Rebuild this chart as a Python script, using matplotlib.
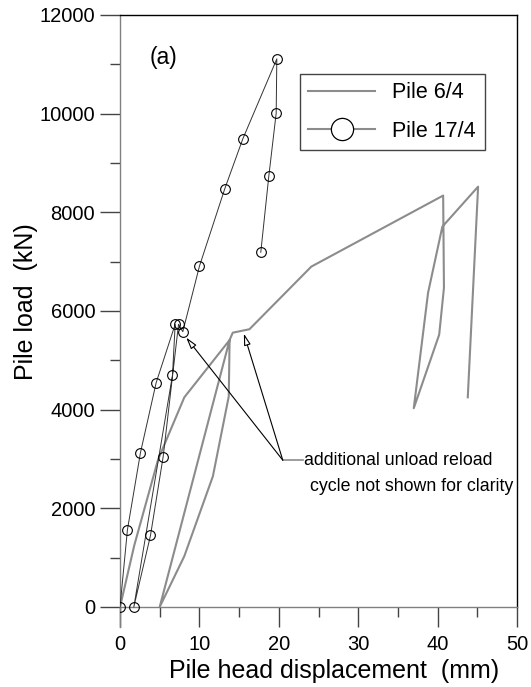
import matplotlib
matplotlib.use('Agg')
import matplotlib.pyplot as plt
from matplotlib.lines import Line2D
from matplotlib.ticker import MultipleLocator

plt.rcParams['font.family'] = ['Liberation Sans', 'DejaVu Sans']

# pile 6/4 load-displacement path (mm, kN)
disp_6_4 = [0, 1.8, 4.8, 8.1, 13.8, 13.7, 11.7, 8.1, 5.0, 13.8, 14.2, 16.3,
            24.1, 40.7, 40.8, 40.2, 37.0, 38.8, 40.6, 45.1, 43.8]
load_6_4 = [0, 1250, 2990, 4250, 5410, 4270, 2650, 1030, 0, 5410, 5560, 5630,
            6900, 8340, 6470, 5520, 4030, 6370, 7710, 8520, 4250]

# pile 17/4 load-displacement path (mm, kN)
disp_17_4 = [0, 0.94, 2.58, 4.56, 6.95, 6.61, 1.74, 3.84, 5.44, 7.37, 7.91,
             10.01, 13.2, 15.47, 19.75, 19.67, 18.74, 17.73]
load_17_4 = [0, 1570, 3130, 4550, 5730, 4700, 0, 1450, 3050, 5730, 5580,
             6910, 8480, 9490, 11110, 10010, 8730, 7190]

labels = ['Pile 6/4', 'Pile 17/4']
note_lines = ['additional unload reload', 'cycle not shown for clarity']

fig = plt.figure(figsize=(5.31, 6.87), dpi=100)
ax = fig.add_axes([120/531, 1-627/687, 397/531, 612/687])

ax.plot(disp_6_4, load_6_4, color='#8c8c8c', lw=1.5, zorder=2)
ax.plot(disp_17_4, load_17_4, color='#333333', lw=0.7, marker='o', ms=7,
        mfc='none', mec='black', mew=0.8, zorder=3)

# annotation with two arrows
jx, jy = 20.5, 2976
ax.plot([jx, 23.0], [jy, jy], color='#8c8c8c', lw=1.2)
for tx, ty in [(8.34, 5461), (15.6, 5542)]:
    ax.annotate('', xy=(tx, ty), xytext=(jx, jy),
                arrowprops=dict(arrowstyle='-|>,head_length=0.7,head_width=0.2',
                                fc='white', ec='black', lw=0.8,
                                shrinkA=0, shrinkB=0))
ax.text(23.2, 2976, note_lines[0], fontsize=12.8, ha='left', va='center')
ax.text(23.9, 2450, note_lines[1], fontsize=12.8, ha='left', va='center')

ax.text(3.7, 11130, '(a)', fontsize=16.5, ha='left', va='center')

ax.set_xlim(0, 50)
ax.set_ylim(-406, 12000)
ax.xaxis.set_major_locator(MultipleLocator(10))
ax.xaxis.set_minor_locator(MultipleLocator(5))
ax.yaxis.set_major_locator(MultipleLocator(2000))
ax.yaxis.set_minor_locator(MultipleLocator(1000))

ax.spines['bottom'].set_position(('data', 0))
ax.spines['bottom'].set_color('#808080')
ax.spines['left'].set_color('#808080')
ax.spines['top'].set_color('black')
ax.spines['right'].set_color('black')
ax.spines['right'].set_bounds(0, 12000)
for s in ax.spines.values():
    s.set_linewidth(1.0)

ax.tick_params(axis='both', which='major', direction='out', length=14.4,
               width=1.0, color='#444444', labelsize=14.5)
ax.tick_params(axis='both', which='minor', direction='out', length=7,
               width=1.0, color='#444444')
ax.tick_params(axis='y', which='major', pad=3.5)
ax.tick_params(axis='x', which='major', pad=5.5)

ax.set_xlabel('Pile head displacement  (mm)', fontsize=18)
ax.set_ylabel('Pile load  (kN)', fontsize=18)
ax.xaxis.set_label_coords(0.539, -0.052)
ax.yaxis.set_label_coords(-0.207, 0.532)

handles = [Line2D([], [], color='#8c8c8c', lw=1.5),
           Line2D([], [], color='#8c8c8c', lw=1.5, marker='o', ms=16,
                  mfc='white', mec='black', mew=0.9)]
leg = ax.legend(handles, labels, loc='upper left', bbox_to_anchor=(0.453, 0.904),
                borderaxespad=0, fontsize=15.5, handlelength=3.1,
                handletextpad=0.8, borderpad=0.4, labelspacing=0.8,
                fancybox=False, framealpha=1)
leg.get_frame().set_edgecolor('#444444')
leg.get_frame().set_linewidth(1.0)

fig.savefig('out.png', dpi=100)
